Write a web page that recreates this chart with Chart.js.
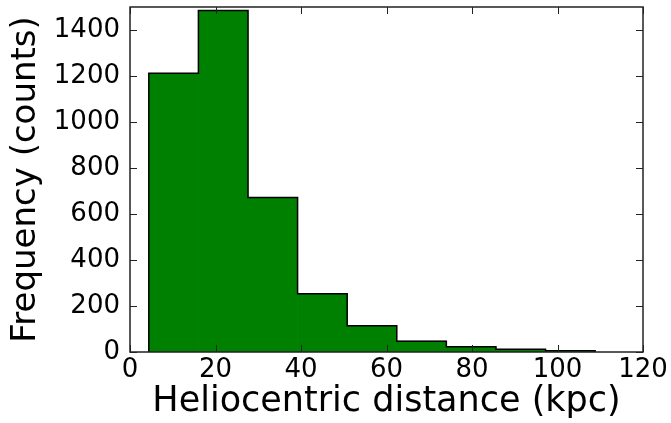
<!DOCTYPE html>
<html>
<head>
<meta charset="utf-8">
<script src="https://cdn.jsdelivr.net/npm/chart.js@4"></script>
<style>
  body { margin: 0; background: #fff; }
  #wrap { width: 671px; height: 423px; }
</style>
</head>
<body>
<div id="wrap"><canvas id="hist"></canvas></div>
<script>
// bin edges (kpc) and counts
const binEdges = [4.4, 16.0, 27.6, 39.2, 50.8, 62.4, 74.0, 85.6, 97.2, 108.8];
const counts = [1212, 1485, 672, 253, 114, 47, 23, 12, 5];
const xTicks = [0, 20, 40, 60, 80, 100, 120];
const yTicks = [0, 200, 400, 600, 800, 1000, 1200, 1400];

// one bar per bin, centred in the bin
const bars = counts.map((c, i) => ({ x: (binEdges[i] + binEdges[i + 1]) / 2, y: c }));

const font = 'DejaVu Sans';

// step outline round the filled bars (no lines between bins)
const stepOutline = {
    id: 'stepOutline',
    afterDatasetsDraw(chart) {
        const { ctx } = chart;
        const els = chart.getDatasetMeta(0).data;
        if (!els.length) return;
        ctx.save();
        ctx.strokeStyle = '#000';
        ctx.lineWidth = 1.5;
        ctx.beginPath();
        const first = els[0];
        ctx.moveTo(first.x - first.width / 2, first.base);
        els.forEach(el => {
            ctx.lineTo(el.x - el.width / 2, el.y);
            ctx.lineTo(el.x + el.width / 2, el.y);
        });
        const last = els[els.length - 1];
        ctx.lineTo(last.x + last.width / 2, last.base);
        ctx.stroke();
        ctx.restore();
    }
};

// matplotlib style frame with inward ticks on all four sides
const frameTicks = {
    id: 'frameTicks',
    afterDraw(chart) {
        const { ctx, chartArea: a, scales } = chart;
        ctx.save();
        ctx.strokeStyle = '#222';
        ctx.lineWidth = 1.5;
        ctx.strokeRect(a.left, a.top, a.right - a.left, a.bottom - a.top);
        ctx.lineWidth = 1;
        const len = 7;
        ctx.beginPath();
        xTicks.forEach(v => {
            const px = Math.round(scales.x.getPixelForValue(v)) + 0.5;
            ctx.moveTo(px, a.bottom); ctx.lineTo(px, a.bottom - len);
            ctx.moveTo(px, a.top); ctx.lineTo(px, a.top + len);
        });
        yTicks.forEach(v => {
            const py = Math.round(scales.y.getPixelForValue(v)) + 0.5;
            ctx.moveTo(a.left, py); ctx.lineTo(a.left + len, py);
            ctx.moveTo(a.right, py); ctx.lineTo(a.right - len, py);
        });
        ctx.stroke();
        ctx.restore();
    }
};

new Chart(document.getElementById('hist'), {
    type: 'bar',
    data: {
        datasets: [{
            data: bars,
            backgroundColor: '#008000',
            borderWidth: 0,
            barPercentage: 1,
            categoryPercentage: 1
        }]
    },
    options: {
        responsive: true,
        maintainAspectRatio: false,
        animation: false,
        layout: { padding: { top: 7, right: 28, left: 0, bottom: 0 } },
        plugins: { legend: { display: false }, tooltip: { enabled: false } },
        scales: {
            x: {
                type: 'linear',
                offset: false,
                min: 0,
                max: 120,
                grid: { display: false, drawTicks: false },
                border: { display: false },
                afterBuildTicks: s => { s.ticks = xTicks.map(v => ({ value: v })); },
                afterFit: s => { s.height = 71; s.paddingLeft = 0; s.paddingRight = 0; },
                ticks: { color: '#000', font: { family: font, size: 26 }, padding: 3, maxRotation: 0, callback: v => String(v) },
                title: {
                    display: true,
                    text: 'Heliocentric distance (kpc)',
                    color: '#000',
                    font: { family: font, size: 35 },
                    padding: { top: 0, bottom: 0 }
                }
            },
            y: {
                min: 0,
                max: 1500,
                grid: { display: false, drawTicks: false },
                border: { display: false },
                afterBuildTicks: s => { s.ticks = yTicks.map(v => ({ value: v })); },
                afterFit: s => { s.width = 130; s.paddingTop = 0; s.paddingBottom = 0; },
                ticks: { color: '#000', font: { family: font, size: 26 }, padding: 10, callback: v => String(v) },
                title: {
                    display: true,
                    text: 'Frequency (counts)',
                    color: '#000',
                    font: { family: font, size: 34 },
                    padding: { top: 6, bottom: 0 }
                }
            }
        }
    },
    plugins: [stepOutline, frameTicks]
});
</script>
</body>
</html>
